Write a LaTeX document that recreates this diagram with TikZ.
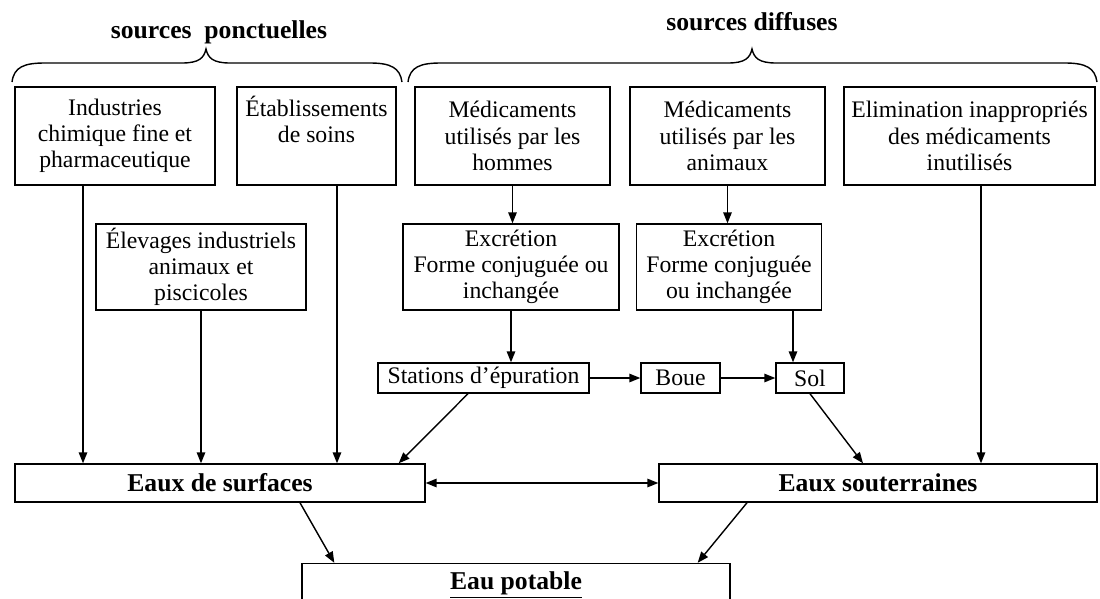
\documentclass[tikz,border=0pt]{standalone}
\usepackage{fontspec}
\setmainfont{Liberation Serif}
\usetikzlibrary{arrows.meta}

\tikzset{
  >={Triangle[length=0.22cm,width=0.17cm]},
  box/.style={draw, line width=0.8pt, align=center, inner sep=1pt, font=\fontsize{13.5}{14.9}\selectfont},
  srcbox/.style={box, minimum height=1.96cm},
  midbox/.style={box, minimum height=1.72cm},
  tinybox/.style={box, minimum height=0.6cm},
  eaubox/.style={box, minimum height=0.76cm, font=\fontsize{14.6}{17}\selectfont\bfseries},
  titre/.style={font=\fontsize{14.6}{17}\selectfont\bfseries},
  flow/.style={->, line width=0.8pt}
}

\begin{document}
\begin{tikzpicture}[x=0.02cm, y=-0.02cm]
   \useasboundingbox (0,0) rectangle (1100,599);
   \clip (0,0) rectangle (1100,599);
   % titles and braces
   \node[titre] (ponct) at (219,32) {sources\ \ ponctuelles};
   \node[titre] (diff) at (752,22) {sources diffuses};
   \draw[line width=0.8pt] (12,82) .. controls (14,67) and (24,63) .. (45,63) -- (182,63)
      .. controls (199,63) and (204,58) .. (206,49) .. controls (208,58) and (213,63) .. (230,63)
      -- (370,63) .. controls (391,63) and (400,68) .. (402,82);
   \draw[line width=0.8pt] (408,82) .. controls (410,67) and (420,63) .. (441,63) -- (728,63)
      .. controls (745,63) and (750,58) .. (752,49) .. controls (754,58) and (759,63) .. (776,63)
      -- (1065,63) .. controls (1086,63) and (1095,68) .. (1097,82);
   % sources
   \node[srcbox, minimum width=4cm] (ind) at (115,136) {Industries\\chimique fine et\\pharmaceutique};
   \node[srcbox, minimum width=3.18cm] (etab) at (316.5,136) {Établissements\\de soins\\\strut};
   \node[srcbox, minimum width=3.9cm] (medh) at (512.5,136) {Médicaments\\utilisés par les\\hommes};
   \node[srcbox, minimum width=3.9cm] (meda) at (727.5,136) {Médicaments\\utilisés par les\\animaux};
   \node[srcbox, minimum width=5.02cm] (elim) at (969.5,136) {Elimination inappropriés\\des médicaments\\inutilisés};
   % middle row
   \node[midbox, minimum width=4.2cm] (elev) at (201,267) {Élevages industriels\\animaux et\\piscicoles};
   \node[midbox, minimum width=4.32cm] (exc1) at (511,267) {Excrétion\\Forme conjuguée ou\\inchangée};
   \node[midbox, minimum width=3.7cm] (exc2) at (729,267) {Excrétion\\Forme conjuguée\\ou inchangée};
   \node[tinybox, minimum width=4.22cm] (stat) at (483.5,378) {Stations d’épuration};
   \node[tinybox, minimum width=1.58cm] (boue) at (680.5,378) {Boue};
   \node[tinybox, minimum width=1.36cm] (sol) at (810,378) {Sol};
   % waters
   \node[eaubox, minimum width=8.2cm] (esurf) at (220,483) {Eaux de surfaces};
   \node[eaubox, minimum width=8.76cm] (esout) at (878,483) {Eaux souterraines};
   \node[eaubox, minimum width=8.56cm, minimum height=0.86cm] (epot) at (516,585) {\underline{Eau potable}};
   % connectors
   \path ([xshift=-0.64cm]ind.south) edge[flow] ([xshift=-0.64cm]ind.south |- esurf.north)
      ([xshift=0.41cm]etab.south) edge[flow] ([xshift=0.41cm]etab.south |- esurf.north)
      (elev.south) edge[flow] (elev.south |- esurf.north)
      (medh.south) edge[flow] (medh.south |- exc1.north)
      (meda.south) edge[flow] (meda.south |- exc2.north)
      (exc1.south) edge[flow] (exc1.south |- stat.north)
      ([xshift=-0.34cm]sol.north |- exc2.south) edge[flow] ([xshift=-0.34cm]sol.north)
      (stat) edge[flow] (boue)
      (boue) edge[flow] (sol)
      ([xshift=-0.31cm]stat.south) edge[flow] ([xshift=-0.54cm]esurf.north east)
      (sol.south) edge[flow] ([xshift=-0.3cm]esout.north)
      ([xshift=0.23cm]elim.south) edge[flow] ([xshift=0.23cm]elim.south |- esout.north)
      (esurf) edge[flow, <->] (esout)
      ([xshift=1.6cm]esurf.south) edge[flow] ([xshift=0.66cm]epot.north west)
      ([xshift=-2.62cm]esout.south) edge[flow] ([xshift=-0.66cm]epot.north east);
\end{tikzpicture}
\end{document}
